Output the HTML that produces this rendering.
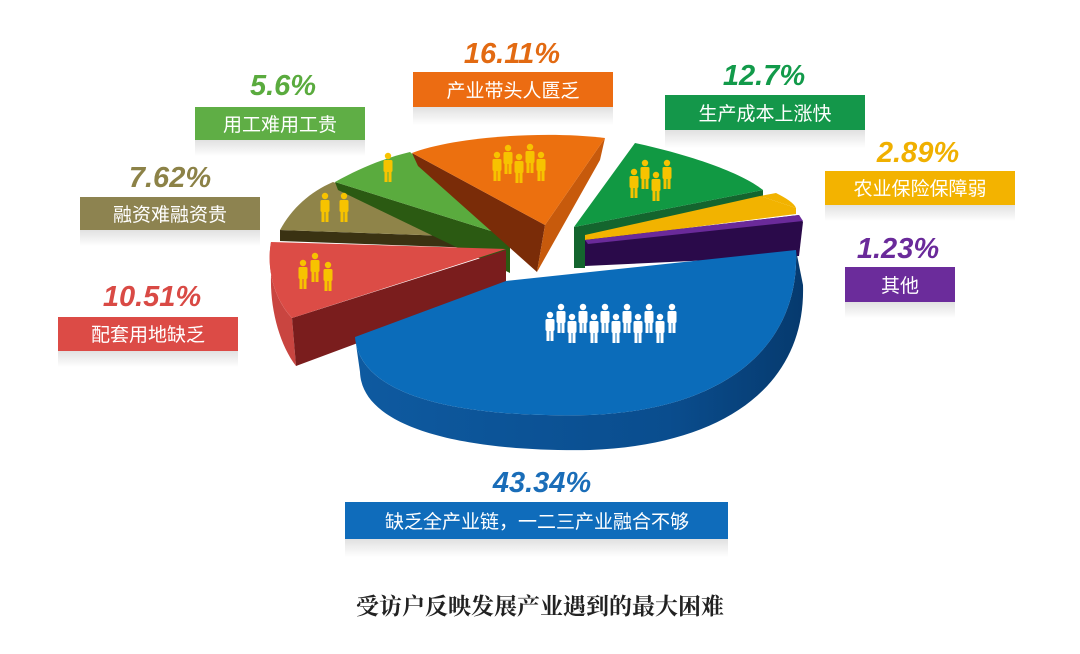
<!DOCTYPE html>
<html><head><meta charset="utf-8"><style>
html,body{margin:0;padding:0;background:#fff;}
svg{display:block;}
.p{font-family:"Liberation Sans",sans-serif;font-weight:bold;font-style:italic;font-size:29px;text-anchor:middle;}
.l{font-family:"Liberation Sans","Noto Sans CJK SC",sans-serif;font-size:19px;fill:#fff;text-anchor:middle;}
</style></head><body>
<svg width="1080" height="654" viewBox="0 0 1080 654" xmlns="http://www.w3.org/2000/svg">
<defs>
<g id="man"><circle cx="0" cy="-15" r="3.2"/><rect x="-4.5" y="-11" width="9" height="12" rx="1.5"/><rect x="-3.5" y="0" width="3" height="11"/><rect x="0.5" y="0" width="3" height="11"/></g>
<linearGradient id="fade" x1="0" y1="0" x2="0" y2="1"><stop offset="0" stop-color="#000" stop-opacity="0.12"/><stop offset="1" stop-color="#000" stop-opacity="0"/></linearGradient>
<linearGradient id="bside" x1="0" y1="0" x2="1" y2="0"><stop offset="0" stop-color="#0e5aa0"/><stop offset="0.7" stop-color="#0a4d8e"/><stop offset="1" stop-color="#063a6e"/></linearGradient>
</defs>

<!-- tan slice -->
<path d="M506,238 L280,230 L280,241 L506,249 Z" fill="#3a3212"/>
<path d="M506,238 L280,230 C292,208 310,192 333,182 Z" fill="#8f8449"/>
<!-- light green slice -->
<path d="M510,237 L335,182 L338,190 L510,273 Z" fill="#2b5a12"/>
<path d="M510,237 L335,182 C360,168 385,158 410,152 Z" fill="#5aab3e"/>
<!-- orange slice -->
<path d="M412,153 L545,225 L537,272 L418,166 Z" fill="#7a2c08"/>
<path d="M605,138 L545,225 L537,272 L600,160 Z" fill="#c75a0c"/>
<path d="M412,153 C450,138 540,130 605,138 L545,225 Z" fill="#ec700f"/>
<!-- red slice -->
<path d="M271,242 C266,270 275,300 292,318 L296,366 C280,345 270,310 271,276 Z" fill="#c94540"/>
<path d="M292,318 L506,250 L506,288 L296,366 Z" fill="#7a1d1d"/>
<path d="M506,249 L271,242 C266,270 275,300 292,318 Z" fill="#dc4c46"/>
<!-- dark green slice -->
<path d="M574,227 L763,190 L763,200 L585,240 L585,268 L574,268 Z" fill="#14652e"/>
<path d="M574,227 L635,143 C690,155 740,172 763,190 Z" fill="#119943"/>
<!-- yellow -->
<path d="M585,235 L760,196 L796,208 L796,214 L585,241 Z" fill="#f2b300"/>
<path d="M760,196 L776,193 C786,198 794,203 796,208 Z" fill="#f2b300"/>
<!-- purple -->
<path d="M585,240 L799,215 L803,222 L799,256 L585,266 Z" fill="#2a0a4a"/>
<path d="M585,240 L799,215 L803,221 L588,244 Z" fill="#6a2a9a"/>
<!-- blue slice -->
<path d="M355,337 C360,400 470,418 590,415 C720,410 800,350 796,250 L803,285 C806,385 725,445 590,450 C470,452 362,430 360,372 Z" fill="url(#bside)"/>
<path d="M506,281 L355,337 C360,400 470,418 590,415 C720,410 800,350 796,250 Z" fill="#0b6cba"/>

<!-- people -->
<g fill="#f7c300">
<use href="#man" x="497" y="170"/><use href="#man" x="508" y="163"/><use href="#man" x="519" y="172"/><use href="#man" x="530" y="162"/><use href="#man" x="541" y="170"/>
<use href="#man" x="634" y="187"/><use href="#man" x="645" y="178"/><use href="#man" x="656" y="190"/><use href="#man" x="667" y="178"/>
<use href="#man" x="388" y="171"/>
<use href="#man" x="325" y="211"/><use href="#man" x="344" y="211"/>
<use href="#man" x="303" y="278"/><use href="#man" x="315" y="271"/><use href="#man" x="328" y="280"/>
</g>
<g fill="#fff">
<use href="#man" x="550" y="330"/><use href="#man" x="561" y="322"/><use href="#man" x="572" y="332"/><use href="#man" x="583" y="322"/><use href="#man" x="594" y="332"/><use href="#man" x="605" y="322"/><use href="#man" x="616" y="332"/><use href="#man" x="627" y="322"/><use href="#man" x="638" y="332"/><use href="#man" x="649" y="322"/><use href="#man" x="660" y="332"/><use href="#man" x="672" y="322"/>
</g>

<!-- labels -->
<g>
<text class="p" x="512" y="63" fill="#e26a12">16.11%</text>
<rect x="413" y="72" width="200" height="35" fill="#ec6c12"/><rect x="413" y="107" width="200" height="18" fill="url(#fade)"/>
<text class="l" x="513" y="97">产业带头人匮乏</text>

<text class="p" x="764" y="85" fill="#129a4a">12.7%</text>
<rect x="665" y="95" width="200" height="35" fill="#14974a"/><rect x="665" y="130" width="200" height="18" fill="url(#fade)"/>
<text class="l" x="765" y="120">生产成本上涨快</text>

<text class="p" x="283" y="95" fill="#5aab3e">5.6%</text>
<rect x="195" y="107" width="170" height="33" fill="#5fae45"/><rect x="195" y="140" width="170" height="16" fill="url(#fade)"/>
<text class="l" x="280" y="131">用工难用工贵</text>

<text class="p" x="170" y="187" fill="#8c8247">7.62%</text>
<rect x="80" y="197" width="180" height="33" fill="#8d8350"/><rect x="80" y="230" width="180" height="16" fill="url(#fade)"/>
<text class="l" x="170" y="221">融资难融资贵</text>

<text class="p" x="918" y="162" fill="#f0b000">2.89%</text>
<rect x="825" y="171" width="190" height="34" fill="#f3b300"/><rect x="825" y="205" width="190" height="16" fill="url(#fade)"/>
<text class="l" x="920" y="195">农业保险保障弱</text>

<text class="p" x="898" y="258" fill="#6a2a9a">1.23%</text>
<rect x="845" y="267" width="110" height="35" fill="#6b2c9b"/><rect x="845" y="302" width="110" height="16" fill="url(#fade)"/>
<text class="l" x="900" y="292">其他</text>

<text class="p" x="152" y="306" fill="#d94a45">10.51%</text>
<rect x="58" y="317" width="180" height="34" fill="#dc4b46"/><rect x="58" y="351" width="180" height="16" fill="url(#fade)"/>
<text class="l" x="148" y="341">配套用地缺乏</text>

<text class="p" x="542" y="492" fill="#1a6db8">43.34%</text>
<rect x="345" y="502" width="383" height="37" fill="#0f6cbb"/><rect x="345" y="539" width="383" height="18" fill="url(#fade)"/>
<text class="l" x="537" y="528">缺乏全产业链，一二三产业融合不够</text>

<text x="540" y="614" text-anchor="middle" font-family="'Liberation Serif','Noto Serif CJK SC',serif" font-weight="bold" font-size="23" fill="#222">受访户反映发展产业遇到的最大困难</text>
</g>
</svg>
</body></html>
